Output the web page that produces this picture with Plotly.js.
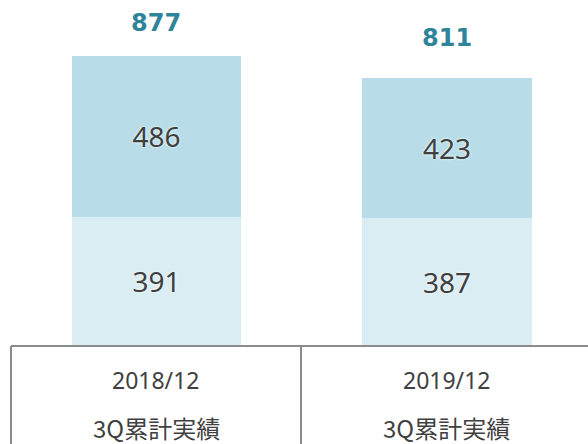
<!DOCTYPE html>
<html><head><meta charset="utf-8">
<script src="https://cdn.plot.ly/plotly-3.0.1.min.js"></script>
<style>html,body{margin:0;padding:0;background:#fff;}#chart{width:588px;height:444px;}</style>
</head><body><div id="chart"></div>
<script>
const categories = ["2018/12", "2019/12"];
const subLabels = ["3Q累計実績", "3Q累計実績"];
const lowerValues = [391, 387];
const upperValues = [486, 423];
const totals = [877, 811];
const xPos = [0, 1];

const labelFont = {family: "Noto Sans, Open Sans, sans-serif", size: 28, color: "#404040", shadow: "0px 0px 3px #ffffff"};

const traces = [
  {type: "bar", x: xPos, y: lowerValues, width: 0.585, marker: {color: "#daedf3"},
   text: lowerValues.map(String), textposition: "inside", insidetextanchor: "middle",
   textfont: labelFont, hoverinfo: "skip", constraintext: "none"},
  {type: "bar", x: xPos, y: upperValues, width: 0.585, marker: {color: "#b8dde8"},
   text: upperValues.map(String), textposition: "inside", insidetextanchor: "middle",
   textfont: labelFont, hoverinfo: "skip", constraintext: "none"}
];

const lineColor = "#8c8c8c";
const baseY = (444 - 346) / 444;
const shapes = [
  {type: "line", xref: "paper", yref: "paper", x0: 11/588, x1: 1, y0: baseY, y1: baseY, line: {color: lineColor, width: 2}},
  {type: "line", xref: "paper", yref: "paper", x0: 11/588, x1: 11/588, y0: 0, y1: baseY, line: {color: lineColor, width: 2}},
  {type: "line", xref: "paper", yref: "paper", x0: 301/588, x1: 301/588, y0: 0, y1: baseY, line: {color: lineColor, width: 2}}
];

const annotations = [];
totals.forEach((t, i) => {
  annotations.push({x: xPos[i], y: lowerValues[i] + upperValues[i], xref: "x", yref: "y", text: "<b>" + t + "</b>", showarrow: false,
    yanchor: "bottom", yshift: i === 0 ? 18 : 25, borderpad: 0,
    font: {family: "DejaVu Sans, Verdana, sans-serif", size: 24, color: "#2e8499"}});
  annotations.push({x: xPos[i], y: (444 - 380) / 444, xref: "x", yref: "paper", text: categories[i], showarrow: false,
    yanchor: "middle", font: {family: "Noto Sans, sans-serif", size: 23, color: "#404040"}});
  annotations.push({x: xPos[i], y: (444 - 427) / 444, xref: "x", yref: "paper", text: subLabels[i], showarrow: false,
    yanchor: "middle", borderpad: 0, font: {family: "Noto Sans CJK JP, Noto Sans, sans-serif", size: 24, color: "#404040"}});
});

const layout = {
  width: 588, height: 444,
  margin: {l: 0, r: 0, t: 0, b: 0},
  paper_bgcolor: "#ffffff", plot_bgcolor: "#ffffff",
  barmode: "stack", showlegend: false,
  xaxis: {range: [-0.5387, 1.4854], visible: false, fixedrange: true},
  yaxis: {range: [-296, 1045], visible: false, fixedrange: true},
  shapes: shapes, annotations: annotations
};

Plotly.newPlot("chart", traces, layout, {staticPlot: true, displayModeBar: false});
</script>
</body></html>
